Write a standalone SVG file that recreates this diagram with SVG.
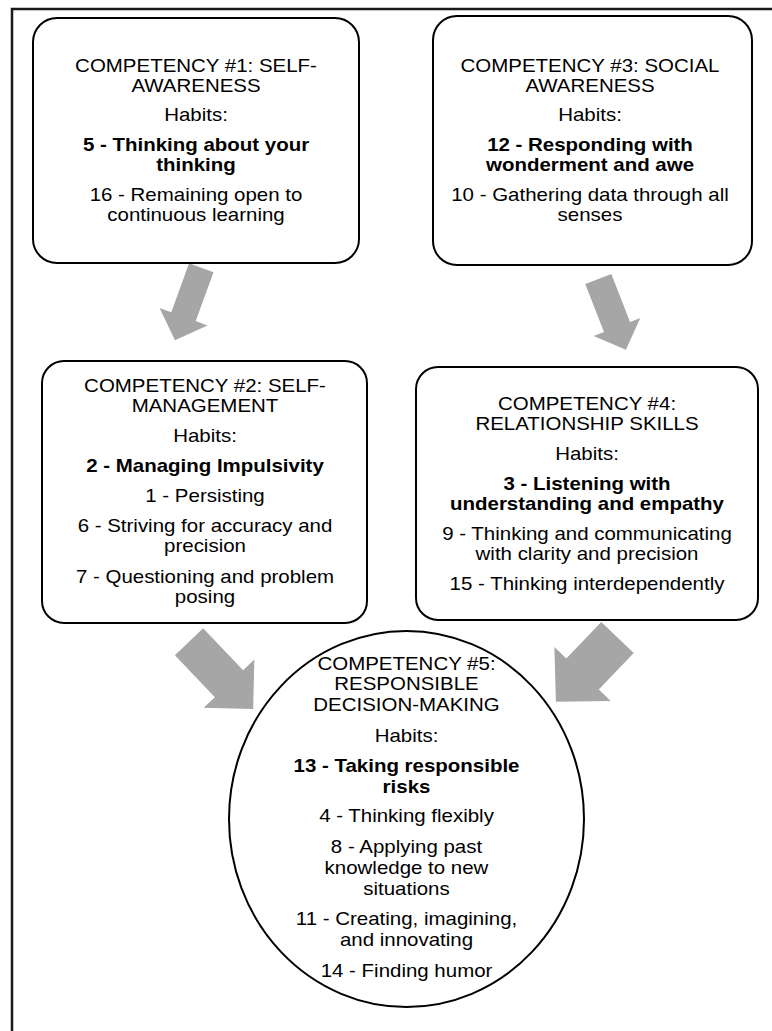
<svg xmlns="http://www.w3.org/2000/svg" width="772" height="1031" viewBox="0 0 772 1031">
  <style>
    .frame { fill: none; stroke: #1a1a1a; stroke-width: 2.5; }
    .box { fill: #ffffff; stroke: #000000; stroke-width: 2; }
    .arrow { fill: #a6a6a6; stroke: none; }
    text { font-family: "Liberation Sans", Arial, sans-serif; font-size: 17.8px; fill: #000000; text-anchor: middle; }
    .b { font-weight: bold; }
  </style>
  <rect width="772" height="1031" fill="#ffffff"/>
  <!-- page frame: only top and left edges fall inside the view -->
  <rect class="frame" x="12" y="9" width="820" height="1100"/>

  <!-- connectors: block arrows between competencies -->
  <g id="connectors">
    <polygon class="arrow" transform="translate(201.3,267.8) rotate(110)" points="0,-13 52,-13 52,-25.5 77,0 52,25.5 52,13 0,13"/>
    <polygon class="arrow" transform="translate(598.3,279) rotate(68.7)" points="0,-14 51.5,-14 51.5,-25 76,0 51.5,25 51.5,14 0,14"/>
    <polygon class="arrow" transform="translate(189,641.7) rotate(46.4)" points="0,-19.5 58,-19.5 58,-35 93,0 58,35 58,19.5 0,19.5"/>
    <polygon class="arrow" transform="translate(617.5,637.5) rotate(133.8)" points="0,-22.5 50.5,-22.5 50.5,-39 89,0 50.5,39 50.5,22.5 0,22.5"/>
  </g>

  <!-- labels use a slightly widened face: each text group is centred on its node and stretched 1.15x horizontally -->
  <g id="competency1">
    <rect class="box" x="33" y="18" width="326" height="245" rx="24"/>
    <g transform="translate(196 0) scale(1.15 1)">
      <text x="0" y="72">COMPETENCY #1: SELF-</text>
      <text x="0" y="92">AWARENESS</text>
      <text x="0" y="121">Habits:</text>
      <text x="0" y="151" class="b">5 - Thinking about your</text>
      <text x="0" y="171" class="b">thinking</text>
      <text x="0" y="201">16 - Remaining open to</text>
      <text x="0" y="221">continuous learning</text>
    </g>
  </g>

  <g id="competency3">
    <rect class="box" x="433" y="16" width="319" height="249" rx="24"/>
    <g transform="translate(590 0) scale(1.15 1)">
      <text x="0" y="72">COMPETENCY #3: SOCIAL</text>
      <text x="0" y="92">AWARENESS</text>
      <text x="0" y="121">Habits:</text>
      <text x="0" y="151" class="b">12 - Responding with</text>
      <text x="0" y="171" class="b">wonderment and awe</text>
      <text x="0" y="201">10 - Gathering data through all</text>
      <text x="0" y="221">senses</text>
    </g>
  </g>

  <g id="competency2">
    <rect class="box" x="42" y="361" width="325" height="262" rx="22"/>
    <g transform="translate(205 0) scale(1.15 1)">
      <text x="0" y="392">COMPETENCY #2: SELF-</text>
      <text x="0" y="412">MANAGEMENT</text>
      <text x="0" y="442">Habits:</text>
      <text x="0" y="472" class="b">2 - Managing Impulsivity</text>
      <text x="0" y="502">1 - Persisting</text>
      <text x="0" y="532">6 - Striving for accuracy and</text>
      <text x="0" y="552">precision</text>
      <text x="0" y="583">7 - Questioning and problem</text>
      <text x="0" y="603">posing</text>
    </g>
  </g>

  <g id="competency4">
    <rect class="box" x="416" y="367" width="342" height="253" rx="22"/>
    <g transform="translate(587 0) scale(1.15 1)">
      <text x="0" y="410">COMPETENCY #4:</text>
      <text x="0" y="430">RELATIONSHIP SKILLS</text>
      <text x="0" y="460">Habits:</text>
      <text x="0" y="490" class="b">3 - Listening with</text>
      <text x="0" y="510" class="b">understanding and empathy</text>
      <text x="0" y="540">9 - Thinking and communicating</text>
      <text x="0" y="560">with clarity and precision</text>
      <text x="0" y="590">15 - Thinking interdependently</text>
    </g>
  </g>

  <g id="competency5">
    <ellipse class="box" cx="406.5" cy="819" rx="177.5" ry="188"/>
    <g transform="translate(406.5 0) scale(1.15 1)">
      <text x="0" y="670">COMPETENCY #5:</text>
      <text x="0" y="690.5">RESPONSIBLE</text>
      <text x="0" y="711">DECISION-MAKING</text>
      <text x="0" y="742">Habits:</text>
      <text x="0" y="772" class="b">13 - Taking responsible</text>
      <text x="0" y="793" class="b">risks</text>
      <text x="0" y="822">4 - Thinking flexibly</text>
      <text x="0" y="853">8 - Applying past</text>
      <text x="0" y="874">knowledge to new</text>
      <text x="0" y="895">situations</text>
      <text x="0" y="925">11 - Creating, imagining,</text>
      <text x="0" y="946">and innovating</text>
      <text x="0" y="977">14 - Finding humor</text>
    </g>
  </g>
</svg>
